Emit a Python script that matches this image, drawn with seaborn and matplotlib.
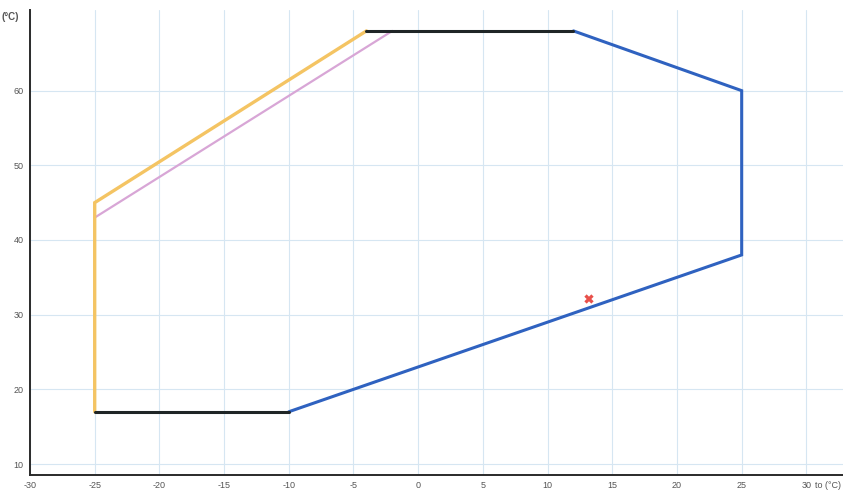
import matplotlib
matplotlib.use("Agg")
import matplotlib.pyplot as plt
import seaborn as sns
import pandas as pd

# Operating envelope: evaporating temperature (to) vs condensing temperature (tc)
black_bottom_to = [-25, -10]
black_bottom_tc = [17, 17]
blue_to = [-10, 25, 25, 12]
blue_tc = [17, 38, 60, 68]
black_top_to = [12, -4]
black_top_tc = [68, 68]
orange_to = [-4, -25, -25]
orange_tc = [68, 45, 17]
pink_to = [-2, -25]
pink_tc = [68, 43]
point_to = [13.2]
point_tc = [32.1]

x_ticks = [-30, -25, -20, -15, -10, -5, 0, 5, 10, 15, 20, 25, 30]
y_ticks = [10, 20, 30, 40, 50, 60]

sns.set_style("white")
plt.rcParams["font.family"] = ["Liberation Sans", "DejaVu Sans"]
plt.rcParams["axes.unicode_minus"] = False

fig = plt.figure(figsize=(8.43, 4.92), dpi=100)
ax = fig.add_axes([30 / 843, 17 / 492, 813 / 843, 465 / 492])

segments = [
    (pink_to, pink_tc, "#d8a6d6", 1.6),
    (orange_to, orange_tc, "#f4c463", 2.4),
    (blue_to, blue_tc, "#2f62c0", 2.2),
    (black_bottom_to, black_bottom_tc, "#1f2526", 2.2),
    (black_top_to, black_top_tc, "#1f2526", 2.2),
]
for xs, ys, col, lw in segments:
    df = pd.DataFrame({"to": xs, "tc": ys})
    sns.lineplot(data=df, x="to", y="tc", sort=False, estimator=None,
                 color=col, linewidth=lw, ax=ax, solid_joinstyle="miter")

sns.scatterplot(x=point_to, y=point_tc, marker="X", s=45, color="#e8504a",
                edgecolor="none", ax=ax, zorder=5)

ax.set_xlim(-30, 32.83)
ax.set_ylim(8.53, 70.8)
ax.set_xticks(x_ticks)
ax.set_yticks(y_ticks)
ax.grid(True, color="#d6e6f2", linewidth=0.8)
ax.set_axisbelow(True)

for side in ["top", "right"]:
    ax.spines[side].set_visible(False)
for side in ["left", "bottom"]:
    ax.spines[side].set_color("#2a2a2a")
    ax.spines[side].set_linewidth(1.4)

ax.tick_params(axis="both", labelsize=6.5, labelcolor="#555555", length=3,
               width=0.8, color="#444444", pad=1.5, direction="out")
ax.tick_params(axis="x", labelsize=6.5)
ax.set_xlabel("")
ax.set_ylabel("")

ax.text(-0.035, 0.985, "(°C)", transform=ax.transAxes, fontsize=7,
        color="#555555", ha="left", va="center", fontweight="bold")
ax.text(0.997, -0.022, "to (°C)", transform=ax.transAxes, fontsize=6.5,
        color="#555555", ha="right", va="center", clip_on=False)

fig.savefig("out.png", dpi=100)
